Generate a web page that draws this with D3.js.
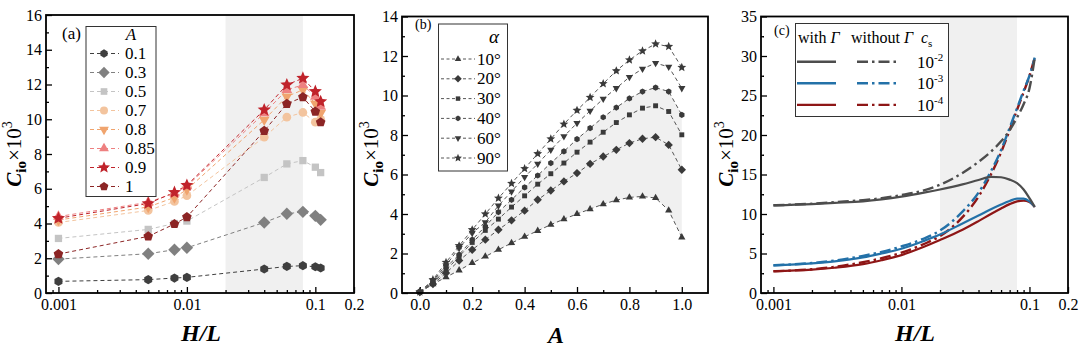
<!DOCTYPE html>
<html><head><meta charset="utf-8">
<script src="https://cdn.jsdelivr.net/npm/d3@7"></script>
<style>body{margin:0;background:#fff}</style>
</head><body>
<svg id="chart" width="1080" height="350" font-family="Liberation Serif"></svg>
<script>
// ---------------- DATA ----------------
// Panel (a): C_io x10^3 vs H/L for several A
const hlA = [0.001, 0.005, 0.008, 0.01, 0.04, 0.06, 0.08, 0.1, 0.11];
const aLabels = ["0.1", "0.3", "0.5", "0.7", "0.8", "0.85", "0.9", "1"];
const aA01  = [0.67, 0.77, 0.86, 0.90, 1.38, 1.53, 1.57, 1.51, 1.44];
const aA03  = [1.95, 2.26, 2.49, 2.60, 4.06, 4.56, 4.67, 4.44, 4.21];
const aA05  = [3.14, 3.66, 4.00, 4.14, 6.65, 7.43, 7.62, 7.24, 6.93];
const aA07  = [4.06, 4.75, 5.27, 5.60, 8.97, 10.12, 10.39, 9.83, 10.0];
const aA08  = [4.20, 4.95, 5.50, 5.95, 9.97, 11.31, 11.69, 10.90, 10.35];
const aA085 = [4.40, 5.22, 5.75, 6.15, 10.35, 11.69, 11.98, 11.30, 10.73];
const aA09  = [4.30, 5.15, 5.79, 6.20, 10.54, 11.98, 12.36, 11.60, 11.02];
const aA1   = [2.24, 3.26, 3.97, 4.37, 9.33, 10.89, 11.27, 10.44, 9.83];
const aTicksX = [0.001, 0.01, 0.1, 0.2];
const aTicksY = [0, 2, 4, 6, 8, 10, 12, 14, 16];
const shadeHL = [0.02, 0.08];

// Panel (b): C_io x10^3 vs A for several alpha
const aValsB = [0, 0.05, 0.1, 0.15, 0.2, 0.25, 0.3, 0.35, 0.4, 0.45, 0.5, 0.55, 0.6, 0.65, 0.7, 0.75, 0.8, 0.85, 0.9, 0.95, 1.0];
const bLabels = ["10°", "20°", "30°", "40°", "60°", "90°"];
const b10 = [0.05, 0.45, 0.80, 1.15, 1.52, 1.85, 2.19, 2.53, 2.85, 3.15, 3.46, 3.74, 4.00, 4.25, 4.50, 4.70, 4.84, 4.89, 4.81, 4.18, 2.82];
const b20 = [0.05, 0.45, 1.01, 1.64, 2.19, 2.70, 3.20, 3.68, 4.17, 4.72, 5.19, 5.65, 6.07, 6.54, 6.91, 7.25, 7.59, 7.81, 7.89, 7.50, 6.24];
const b30 = [0.05, 0.50, 1.15, 1.85, 2.56, 3.17, 3.74, 4.35, 4.92, 5.51, 6.04, 6.58, 7.13, 7.64, 8.14, 8.63, 9.02, 9.36, 9.48, 9.19, 8.01];
const b40 = [0.05, 0.55, 1.30, 1.94, 2.70, 3.37, 4.10, 4.72, 5.35, 5.95, 6.58, 7.17, 7.79, 8.35, 8.90, 9.39, 9.85, 10.20, 10.40, 10.20, 9.02];
const b60 = [0.05, 0.62, 1.40, 2.28, 3.04, 3.58, 4.42, 5.14, 5.87, 6.54, 7.25, 7.93, 8.60, 9.22, 9.83, 10.37, 10.93, 11.35, 11.64, 11.45, 10.37];
const b90 = [0.05, 0.67, 1.55, 2.39, 3.20, 4.00, 4.80, 5.55, 6.30, 7.05, 7.80, 8.55, 9.25, 9.90, 10.60, 11.25, 11.80, 12.26, 12.61, 12.48, 11.42];
const bTicksX = [0, 0.2, 0.4, 0.6, 0.8, 1.0];
const bTicksY = [0, 2, 4, 6, 8, 10, 12, 14];

// Panel (c): curves with / without Gamma for c_s
const hlC = [0.001, 0.002, 0.003, 0.005, 0.007, 0.01, 0.015, 0.02, 0.03, 0.04, 0.05, 0.06, 0.07, 0.08, 0.09, 0.1, 0.11];
const cLabels = ["-2", "-3", "-4"];
const cWith2    = [11.1, 11.25, 11.4, 11.6, 11.85, 12.2, 12.7, 13.1, 13.75, 14.3, 14.7, 14.65, 14.35, 13.9, 13.1, 12.0, 10.9];
const cWithout2 = [11.1, 11.3, 11.5, 11.75, 12.0, 12.4, 13.0, 13.7, 15.2, 16.6, 17.9, 19.2, 20.6, 22.2, 23.9, 25.9, 29.8];
const cWith3    = [3.5, 3.75, 4.0, 4.5, 5.0, 5.6, 6.6, 7.4, 8.8, 9.8, 10.6, 11.2, 11.65, 11.95, 11.95, 11.6, 10.9];
const cWithout3 = [3.5, 3.8, 4.1, 4.7, 5.2, 5.9, 6.9, 7.9, 10.3, 12.7, 15.4, 18.1, 20.9, 23.4, 25.6, 27.5, 29.8];
const cWith4    = [2.75, 2.95, 3.2, 3.65, 4.15, 4.8, 5.85, 6.7, 8.0, 9.1, 10.0, 10.7, 11.25, 11.6, 11.7, 11.5, 10.9];
const cWithout4 = [2.75, 3.0, 3.3, 3.9, 4.4, 5.1, 6.2, 7.2, 9.6, 12.2, 15.0, 17.8, 20.6, 23.2, 25.4, 27.5, 29.8];
const cTicksY = [0, 5, 10, 15, 20, 25, 30, 35];

// ---------------- HELPERS ----------------
const FONT = "Liberation Serif";
const svg = d3.select("#chart");

function poly(n, rot) {
  return { draw(ctx, size) {
    const r = Math.sqrt(size);
    for (let i = 0; i < n; i++) {
      const a = rot + i * 2 * Math.PI / n;
      const px = r * Math.sin(a), py = -r * Math.cos(a);
      if (i === 0) ctx.moveTo(px, py); else ctx.lineTo(px, py);
    }
    ctx.closePath();
  }};
}
const starSym = { draw(ctx, size) {
  const r = Math.sqrt(size), ri = r * 0.45;
  for (let i = 0; i < 10; i++) {
    const a = i * Math.PI / 5, rr = i % 2 ? ri : r;
    const px = rr * Math.sin(a), py = -rr * Math.cos(a);
    if (i === 0) ctx.moveTo(px, py); else ctx.lineTo(px, py);
  }
  ctx.closePath();
}};
const circleSym = { draw(ctx, size) { const r = Math.sqrt(size); ctx.moveTo(r, 0); ctx.arc(0, 0, r, 0, 2 * Math.PI); } };
const SYM = {
  hex: poly(6, 0), diamond: poly(4, 0), square: poly(4, Math.PI / 4), circle: circleSym,
  tdown: poly(3, Math.PI), tup: poly(3, 0), star: starSym, pent: poly(5, 0)
};
const SYMSCALE = { hex: 1, diamond: 1.35, square: 1.12, circle: 0.95, tdown: 1.35, tup: 1.35, star: 1.5, pent: 1.1 };
function marker(type, r) { return d3.symbol().type(SYM[type]).size((r * SYMSCALE[type]) ** 2)(); }

function frame(g, x0, x1, y0, y1) {
  g.append("rect").attr("x", x0).attr("y", y0).attr("width", x1 - x0).attr("height", y1 - y0)
    .attr("fill", "none").attr("stroke", "#000").attr("stroke-width", 1.8);
}
function styleAxis(sel) {
  sel.attr("font-family", FONT).attr("font-size", 16);
  sel.select(".domain").remove();
  sel.selectAll("line").attr("stroke", "#000").attr("stroke-width", 1.3);
  sel.selectAll("text").attr("font-family", FONT).attr("font-size", 16).attr("fill", "#000");
}
function T(g, x, y, size) {
  return g.append("text").attr("x", x).attr("y", y).attr("font-family", FONT).attr("font-size", size).attr("fill", "#000");
}
function ylab(x, y) {
  const t = svg.append("text").attr("transform", `translate(${x},${y}) rotate(-90)`)
    .attr("text-anchor", "middle").attr("font-family", FONT).attr("font-size", 21);
  t.append("tspan").text("C").attr("font-weight", "bold").attr("font-style", "italic");
  t.append("tspan").text("io").attr("font-weight", "bold").attr("font-size", 15).attr("dy", 5);
  t.append("tspan").text("×10").attr("dy", -5);
  t.append("tspan").text("3").attr("font-size", 14).attr("dy", -9);
}
function xlab(x, y, s) {
  svg.append("text").attr("x", x).attr("y", y).attr("text-anchor", "middle").attr("font-family", FONT)
    .attr("font-size", 24).attr("font-weight", "bold").attr("font-style", "italic").text(s);
}
function logMinor(domain) {
  const out = [];
  for (let e = -4; e <= 0; e++) for (let k = 2; k <= 9; k++) {
    const v = k * Math.pow(10, e);
    if (v > domain[0] && v < domain[1] * 0.99) out.push(v);
  }
  return out;
}

// ---------------- PANEL A ----------------
{
  const L = 46, R = 354, Tp = 15, B = 293;
  const x = d3.scaleLog().domain([0.0008, 0.2]).range([L, R]);
  const y = d3.scaleLinear().domain([0, 16]).range([B, Tp]);
  const g = svg.append("g");
  g.append("rect").attr("x", x(shadeHL[0])).attr("y", Tp).attr("width", x(shadeHL[1]) - x(shadeHL[0]))
    .attr("height", B - Tp).attr("fill", "#f0f0f0");

  styleAxis(g.append("g").attr("transform", `translate(0,${B})`)
    .call(d3.axisBottom(x).tickValues(aTicksX).tickFormat(d => String(d)).tickSize(-6).tickPadding(6)));
  styleAxis(g.append("g").attr("transform", `translate(0,${B})`)
    .call(d3.axisBottom(x).tickValues(logMinor(x.domain())).tickFormat("").tickSize(-3)));
  styleAxis(g.append("g").attr("transform", `translate(${L},0)`)
    .call(d3.axisLeft(y).tickValues(aTicksY).tickSize(-6).tickPadding(4)));
  styleAxis(g.append("g").attr("transform", `translate(${L},0)`)
    .call(d3.axisLeft(y).tickValues(d3.range(1, 16, 2)).tickFormat("").tickSize(-3)));

  const series = [
    { v: aA01, c: "#3f3f3f", s: "hex" }, { v: aA03, c: "#808080", s: "diamond" },
    { v: aA05, c: "#c4c4c4", s: "square" }, { v: aA07, c: "#f3c49e", s: "circle" },
    { v: aA08, c: "#f0a46e", s: "tdown" }, { v: aA085, c: "#ee8080", s: "tup" },
    { v: aA09, c: "#c0232b", s: "star" }, { v: aA1, c: "#8c2525", s: "pent" }
  ];
  const line = d3.line().x(d => x(d[0])).y(d => y(d[1]));
  series.forEach(sr => {
    g.append("path").attr("d", line(hlA.map((h, i) => [h, sr.v[i]]))).attr("fill", "none").attr("stroke", sr.c)
      .attr("stroke-width", 1).attr("stroke-dasharray", "4,3");
  });
  series.forEach(sr => {
    g.selectAll(null).data(hlA.map((h, i) => [h, sr.v[i]])).enter().append("path")
      .attr("transform", d => `translate(${x(d[0])},${y(d[1])})`)
      .attr("d", marker(sr.s, 4.6)).attr("fill", sr.c);
  });
  frame(g, L, R, Tp, B);

  g.append("rect").attr("x", 86).attr("y", 26.5).attr("width", 70).attr("height", 170)
    .attr("fill", "#fff").attr("stroke", "#333").attr("stroke-width", 1);
  T(g, 62, 39, 17).text("(a)");
  T(g, 131, 40, 17).attr("text-anchor", "middle").attr("font-style", "italic").text("A");
  series.forEach((sr, i) => {
    const yy = 53.5 + i * 19;
    g.append("line").attr("x1", 90).attr("x2", 119).attr("y1", yy).attr("y2", yy)
      .attr("stroke", sr.c).attr("stroke-width", 1).attr("stroke-dasharray", "4,3");
    g.append("path").attr("transform", `translate(104,${yy})`).attr("d", marker(sr.s, 4.2)).attr("fill", sr.c);
    T(g, 125, yy + 5.5, 17).text(aLabels[i]);
  });
  ylab(21, 154);
  xlab(201, 341, "H/L");
}

// ---------------- PANEL B ----------------
{
  const L = 402, R = 708, Tp = 16.5, B = 293;
  const x = d3.scaleLinear().domain([-0.068, 1.1]).range([L, R]);
  const y = d3.scaleLinear().domain([0, 14]).range([B, Tp]);
  const g = svg.append("g");
  const area = d3.area().x(d => x(d[0])).y0(d => y(d[1])).y1(d => y(d[2]));
  g.append("path").attr("d", area(aValsB.map((a, i) => [a, b10[i], b40[i]]))).attr("fill", "#f0f0f0");

  styleAxis(g.append("g").attr("transform", `translate(0,${B})`)
    .call(d3.axisBottom(x).tickValues(bTicksX).tickFormat(d3.format(".1f")).tickSize(-6).tickPadding(6)));
  styleAxis(g.append("g").attr("transform", `translate(0,${B})`)
    .call(d3.axisBottom(x).tickValues([0.1, 0.3, 0.5, 0.7, 0.9]).tickFormat("").tickSize(-3)));
  styleAxis(g.append("g").attr("transform", `translate(${L},0)`)
    .call(d3.axisLeft(y).tickValues(bTicksY).tickSize(-6).tickPadding(4)));
  styleAxis(g.append("g").attr("transform", `translate(${L},0)`)
    .call(d3.axisLeft(y).tickValues(d3.range(1, 14, 2)).tickFormat("").tickSize(-3)));

  const series = [
    { v: b10, s: "tup" }, { v: b20, s: "diamond" }, { v: b30, s: "square" },
    { v: b40, s: "hex" }, { v: b60, s: "tdown" }, { v: b90, s: "star" }
  ];
  const col = "#3a3a3a";
  const line = d3.line().x(d => x(d[0])).y(d => y(d[1]));
  series.forEach(sr => {
    g.append("path").attr("d", line(aValsB.map((a, i) => [a, sr.v[i]]))).attr("fill", "none")
      .attr("stroke", "#555").attr("stroke-width", 1).attr("stroke-dasharray", "4,3");
  });
  series.forEach(sr => {
    g.selectAll(null).data(aValsB.map((a, i) => [a, sr.v[i]])).enter().append("path")
      .attr("transform", d => `translate(${x(d[0])},${y(d[1])})`)
      .attr("d", marker(sr.s, 3.1)).attr("fill", col);
  });
  frame(g, L, R, Tp, B);

  g.append("rect").attr("x", 438.5).attr("y", 24).attr("width", 69).attr("height", 147)
    .attr("fill", "#fff").attr("stroke", "#333").attr("stroke-width", 1);
  T(g, 415, 29, 14).text("(b)");
  T(g, 494, 43, 19).attr("text-anchor", "middle").attr("font-style", "italic").text("α");
  series.forEach((sr, i) => {
    const yy = 59 + i * 19.8;
    g.append("line").attr("x1", 441).attr("x2", 475).attr("y1", yy).attr("y2", yy)
      .attr("stroke", "#555").attr("stroke-width", 1).attr("stroke-dasharray", "3,2.5");
    g.append("path").attr("transform", `translate(458,${yy})`).attr("d", marker(sr.s, 2.8)).attr("fill", col);
    T(g, 477, yy + 5.5, 17).text(bLabels[i]);
  });
  ylab(378, 154);
  xlab(556, 343, "A");
}

// ---------------- PANEL C ----------------
{
  const L = 761, R = 1068, Tp = 16.5, B = 293;
  const x = d3.scaleLog().domain([0.0008, 0.2]).range([L, R]);
  const y = d3.scaleLinear().domain([0, 35]).range([B, Tp]);
  const g = svg.append("g");
  g.append("rect").attr("x", x(shadeHL[0])).attr("y", Tp).attr("width", x(shadeHL[1]) - x(shadeHL[0]))
    .attr("height", B - Tp).attr("fill", "#f0f0f0");

  styleAxis(g.append("g").attr("transform", `translate(0,${B})`)
    .call(d3.axisBottom(x).tickValues(aTicksX).tickFormat(d => String(d)).tickSize(-6).tickPadding(6)));
  styleAxis(g.append("g").attr("transform", `translate(0,${B})`)
    .call(d3.axisBottom(x).tickValues(logMinor(x.domain())).tickFormat("").tickSize(-3)));
  styleAxis(g.append("g").attr("transform", `translate(${L},0)`)
    .call(d3.axisLeft(y).tickValues(cTicksY).tickSize(-6).tickPadding(4)));
  styleAxis(g.append("g").attr("transform", `translate(${L},0)`)
    .call(d3.axisLeft(y).tickValues(d3.range(2.5, 35, 5)).tickFormat("").tickSize(-3)));

  const cols = ["#4d4d4d", "#2371a8", "#8e1616"];
  const withS = [cWith2, cWith3, cWith4], withoutS = [cWithout2, cWithout3, cWithout4];
  const line = d3.line().x(d => x(d[0])).y(d => y(d[1])).curve(d3.curveMonotoneX);
  [2, 1, 0].forEach(i => {
    g.append("path").attr("d", line(hlC.map((h, k) => [h, withoutS[i][k]]))).attr("fill", "none")
      .attr("stroke", cols[i]).attr("stroke-width", 2.4).attr("stroke-dasharray", "11,4,2.5,4");
  });
  [2, 1, 0].forEach(i => {
    g.append("path").attr("d", line(hlC.map((h, k) => [h, withS[i][k]]))).attr("fill", "none")
      .attr("stroke", cols[i]).attr("stroke-width", 2.2);
  });
  frame(g, L, R, Tp, B);

  g.append("rect").attr("x", 795.5).attr("y", 23.5).attr("width", 153).attr("height", 93)
    .attr("fill", "#fff").attr("stroke", "#333").attr("stroke-width", 1);
  T(g, 774, 35, 14).text("(c)");
  const h1 = T(g, 798, 43, 16);
  h1.append("tspan").text("with ");
  h1.append("tspan").text("Γ").attr("font-style", "italic");
  const h2 = T(g, 851, 43, 16);
  h2.append("tspan").text("without ");
  h2.append("tspan").text("Γ").attr("font-style", "italic");
  const h3 = T(g, 921, 43, 16);
  h3.append("tspan").text("c").attr("font-style", "italic");
  h3.append("tspan").text("s").attr("font-size", 11).attr("dy", 4);
  cols.forEach((c, i) => {
    const yy = 61.7 + i * 21.6;
    g.append("line").attr("x1", 797).attr("x2", 836).attr("y1", yy).attr("y2", yy)
      .attr("stroke", c).attr("stroke-width", 2.4);
    g.append("line").attr("x1", 857).attr("x2", 896).attr("y1", yy).attr("y2", yy)
      .attr("stroke", c).attr("stroke-width", 2.4).attr("stroke-dasharray", "11,4,2.5,4");
    const t = T(g, 917, yy + 6, 17);
    t.append("tspan").text("10");
    t.append("tspan").text(cLabels[i]).attr("font-size", 11).attr("dy", -7);
  });
  ylab(733, 154);
  xlab(915, 341, "H/L");
}
</script>
</body></html>
